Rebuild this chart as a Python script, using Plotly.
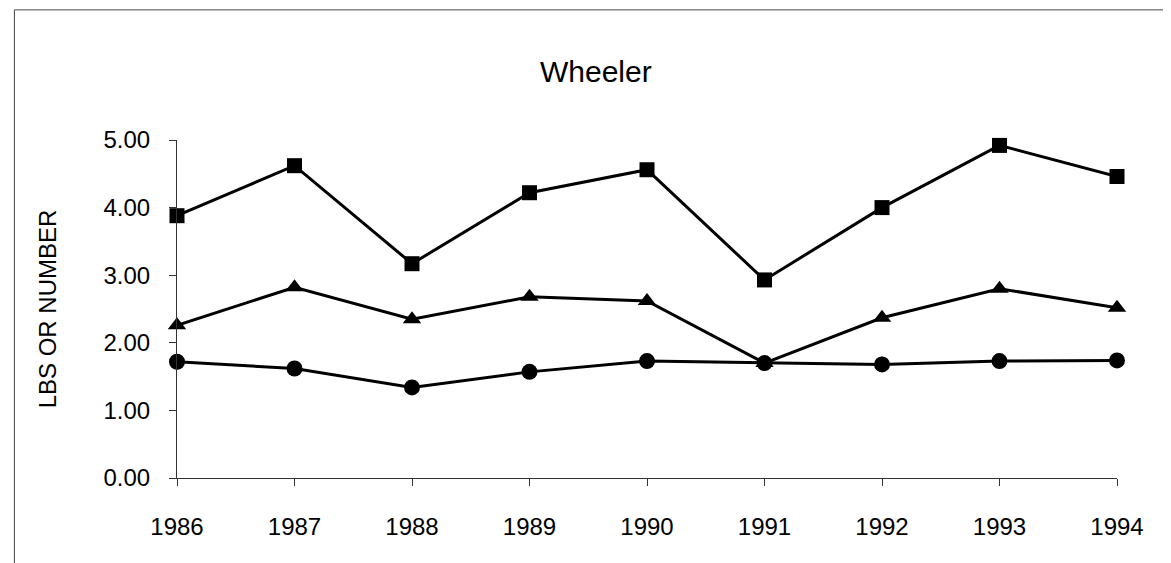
import plotly.graph_objects as go

years = [1986, 1987, 1988, 1989, 1990, 1991, 1992, 1993, 1994]
squares = [3.88, 4.62, 3.17, 4.22, 4.56, 2.93, 4.00, 4.92, 4.46]
triangles = [2.26, 2.82, 2.35, 2.68, 2.62, 1.70, 2.37, 2.80, 2.52]
circles = [1.72, 1.62, 1.34, 1.57, 1.73, 1.70, 1.68, 1.73, 1.74]
y_ticks = [0, 1, 2, 3, 4, 5]
y_tick_text = ["0.00", "1.00", "2.00", "3.00", "4.00", "5.00"]

font = "Liberation Sans, Arial, sans-serif"

fig = go.Figure()
for vals, sym, size in [(squares, "square", 15), (triangles, "triangle-up", 16), (circles, "circle", 16)]:
    fig.add_trace(go.Scatter(
        x=years, y=vals, mode="lines+markers",
        line=dict(color="black", width=3),
        marker=dict(symbol=sym, size=size, color="black"),
        cliponaxis=False, showlegend=False,
    ))

fig.update_layout(
    width=1171, height=563,
    margin=dict(l=169, r=62, t=132, b=93),
    paper_bgcolor="white", plot_bgcolor="white",
    font=dict(family=font, size=24, color="black"),
    title=dict(text="Wheeler", x=0.502, xanchor="center", y=0.888, yanchor="middle",
               font=dict(size=30)),
    xaxis=dict(range=[1986, 1994], tickvals=years, showgrid=False, zeroline=False,
               showline=True, linecolor="#333", linewidth=1,
               ticks="outside", ticklen=7, tickcolor="#333", ticklabelstandoff=20),
    yaxis=dict(range=[0, 5], tickvals=y_ticks, ticktext=y_tick_text, showgrid=False,
               zeroline=False, showline=True, linecolor="#333", linewidth=1,
               ticks="outside", ticklen=7, tickcolor="#333", ticklabelstandoff=14,
               title=dict(text="LBS OR NUMBER", standoff=40, font=dict(size=24))),
    shapes=[dict(type="rect", xref="paper", yref="paper",
                 x0=-0.173, x1=1.0638, y0=-0.3, y1=1.385,
                 line=dict(color="#444", width=1))],
)

fig.write_html("out.html")
